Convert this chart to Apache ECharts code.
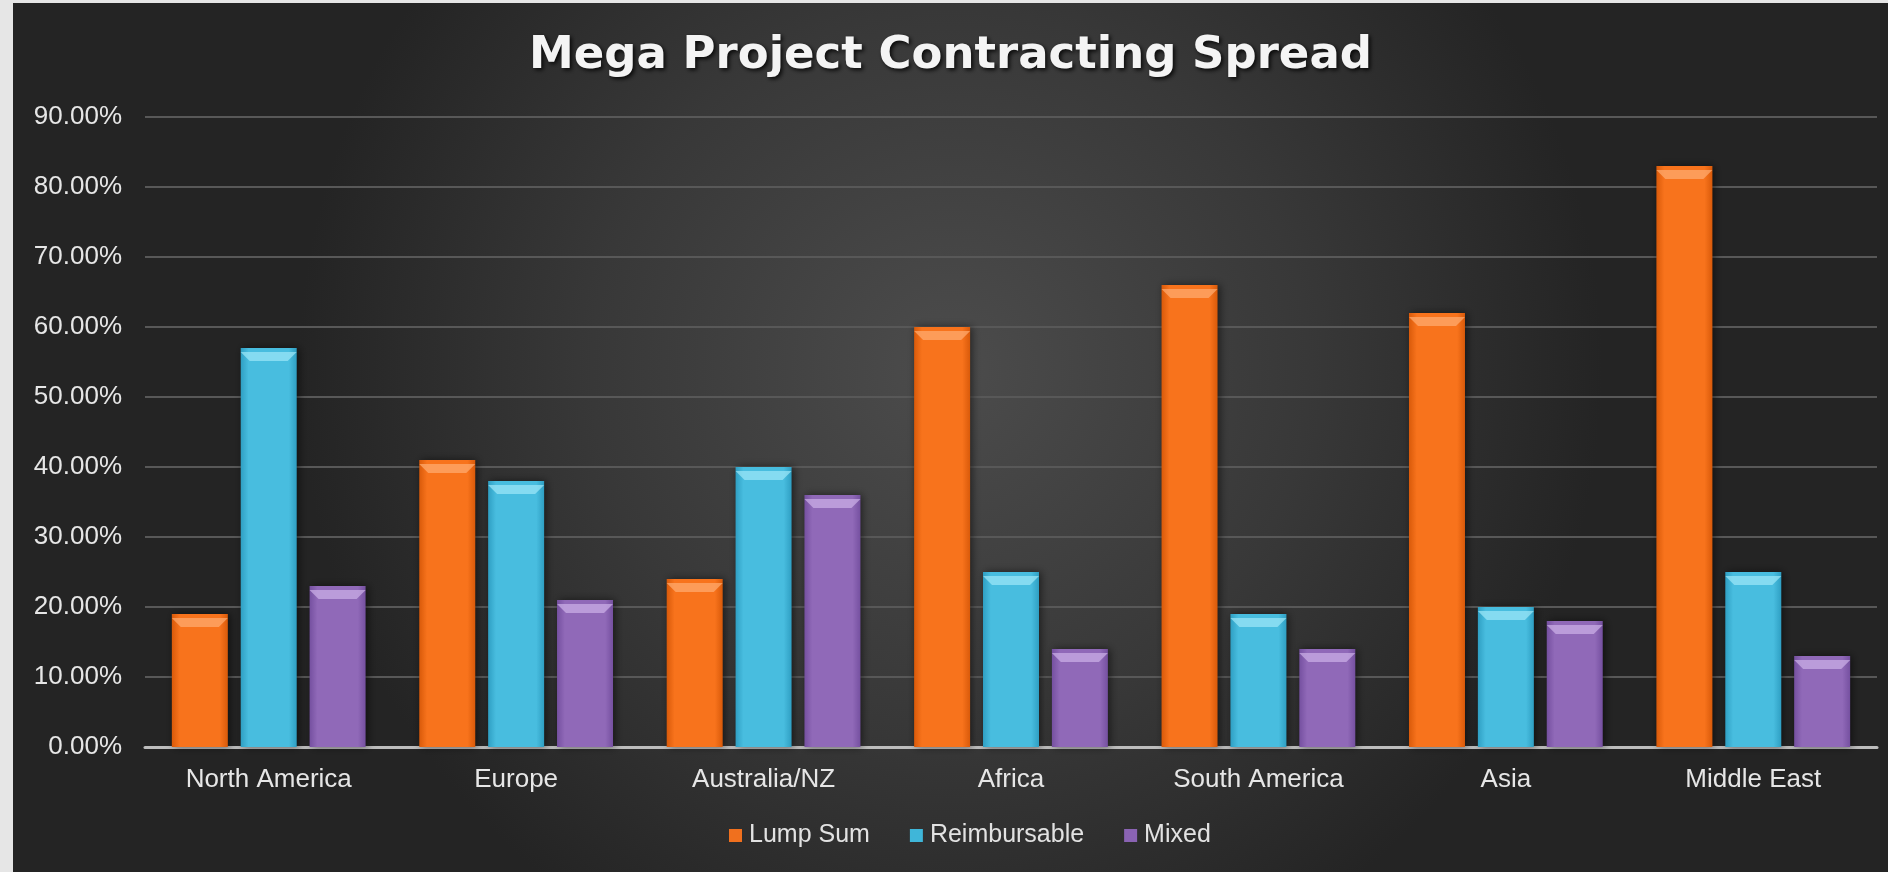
<!DOCTYPE html>
<html>
<head>
<meta charset="utf-8">
<script src="https://cdn.jsdelivr.net/npm/echarts@6/dist/echarts.min.js"></script>
<style>
  html, body { margin: 0; padding: 0; width: 1888px; height: 872px; background: #e6e6e6; overflow: hidden; }
  #chart { position: absolute; left: 13px; top: 3px; width: 1875px; height: 869px; }
</style>
</head>
<body>
<div id="chart"></div>
<script>
const categories = ['North America', 'Europe', 'Australia/NZ', 'Africa', 'South America', 'Asia', 'Middle East'];
const seriesNames = ['Lump Sum', 'Reimbursable', 'Mixed'];
const lumpSum = [19, 41, 24, 60, 66, 62, 83];
const reimbursable = [57, 38, 40, 25, 19, 20, 25];
const mixed = [23, 21, 36, 14, 14, 18, 13];
const yTicks = { min: 0, max: 90, interval: 10 };

const palettes = [
  { edge: '#d95a0a', mid: '#f8731c', top: '#ffae74', legend: '#f0701e' },
  { edge: '#2f9fc3', mid: '#48bddf', top: '#a0e8f8', legend: '#3fb6d9' },
  { edge: '#7550a0', mid: '#9069b8', top: '#cdb2e8', legend: '#8a63b3' }
];
const values = [lumpSum, reimbursable, mixed];

function barFill(p) {
  return new echarts.graphic.LinearGradient(0, 0, 1, 0, [
    { offset: 0, color: p.edge },
    { offset: 0.14, color: p.mid },
    { offset: 0.86, color: p.mid },
    { offset: 1, color: p.edge }
  ]);
}

const chart = echarts.init(document.getElementById('chart'), null, { renderer: 'canvas' });

const series = [];
values.forEach((vals, i) => {
  series.push({
    name: seriesNames[i],
    type: 'bar',
    data: vals,
    barWidth: 56,
    barGap: '23%',
    itemStyle: {
      color: barFill(palettes[i]),
      shadowColor: 'rgba(0,0,0,0.55)',
      shadowBlur: 8,
      shadowOffsetX: 2,
      shadowOffsetY: 0
    },
    emphasis: { disabled: true }
  });
});
values.forEach((vals, i) => {
  series.push({
    name: seriesNames[i] + ' bevel',
    type: 'pictorialBar',
    data: vals,
    barWidth: 56,
    barGap: '23%',
    symbol: 'path://M0,0 L56,0 L47,9 L9,9 Z',
    symbolSize: [56, 9],
    symbolPosition: 'end',
    symbolOffset: [0, '45%'],
    itemStyle: { color: palettes[i].top, opacity: 0.7 },
    z: 3,
    silent: true
  });
});

chart.setOption({
  animation: false,
  backgroundColor: {
    type: 'radial', x: 0.5, y: 0.42, r: 0.75,
    colorStops: [
      { offset: 0, color: '#4c4c4c' },
      { offset: 0.55, color: '#383838' },
      { offset: 1, color: '#242424' }
    ]
  },
  title: {
    text: 'Mega Project Contracting Spread',
    left: 'center',
    top: 26,
    textStyle: {
      fontFamily: 'DejaVu Sans',
      fontWeight: 'bold',
      fontSize: 45,
      color: '#f4f4f4',
      textShadowColor: 'rgba(0,0,0,0.85)',
      textShadowBlur: 4,
      textShadowOffsetX: 2,
      textShadowOffsetY: 2
    }
  },
  legend: {
    data: seriesNames.map((n, i) => ({ name: n, itemStyle: { color: palettes[i].legend } })),
    left: 711,
    top: 815,
    itemWidth: 13,
    itemHeight: 13,
    itemGap: 40,
    icon: 'rect',
    textStyle: { color: '#e2e2e2', fontSize: 25, fontFamily: 'Liberation Sans', padding: [0, 0, 0, 2] }
  },
  grid: { left: 132, right: 11, top: 114, bottom: 125, containLabel: false },
  xAxis: {
    type: 'category',
    data: categories,
    axisTick: { show: false },
    axisLine: { lineStyle: { color: '#bdbdbd', width: 3 } },
    axisLabel: { color: '#e6e6e6', fontSize: 26, fontFamily: 'Liberation Sans', margin: 20 }
  },
  yAxis: {
    type: 'value',
    min: yTicks.min,
    max: yTicks.max,
    interval: yTicks.interval,
    axisLine: { show: false },
    axisTick: { show: false },
    axisLabel: {
      color: '#e6e6e6', fontSize: 26, fontFamily: 'Liberation Sans', margin: 23,
      formatter: v => v.toFixed(2) + '%'
    },
    splitLine: { lineStyle: { color: '#585858', width: 2 } }
  },
  series: series
});
</script>
</body>
</html>
